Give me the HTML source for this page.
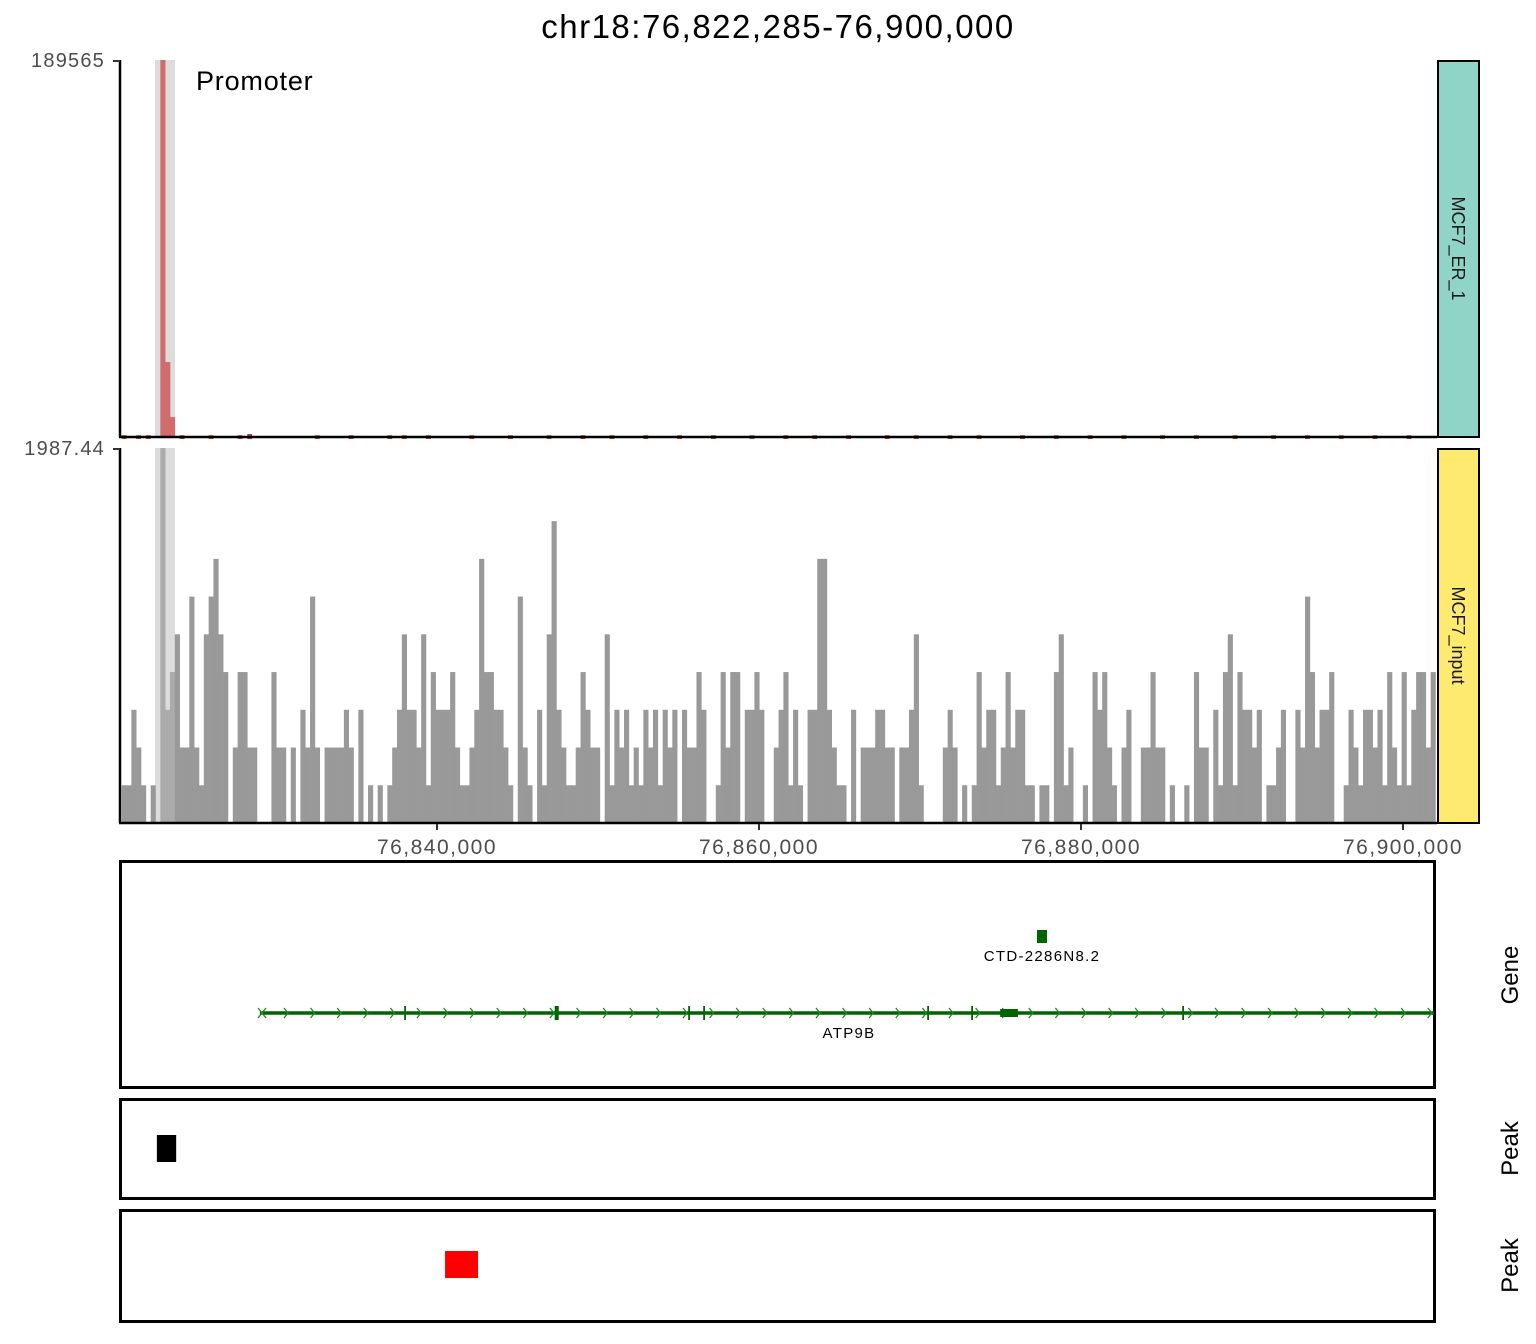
<!DOCTYPE html>
<html><head><meta charset="utf-8">
<style>
html,body{margin:0;padding:0;background:#fff;}
svg{display:block;font-family:"Liberation Sans",sans-serif;}
</style></head>
<body>
<svg id="chart" width="1536" height="1344" viewBox="0 0 1536 1344" xmlns="http://www.w3.org/2000/svg">
<text x="778" y="38" font-size="33" letter-spacing="1.5" text-anchor="middle" fill="#000">chr18:76,822,285-76,900,000</text>
<g id="er-panel"></g>
<g id="in-panel"></g>
<g id="xaxis"></g>
<g id="gene-panel"></g>
<g id="peak-panels"></g>
</svg>
<script>
const NS = "http://www.w3.org/2000/svg";
// ---- data ----
const binStart = 76820416;
const binSize = 300;
const inputValues = [200,200,600,400,200,0,200,0,1987,600,800,1000,400,400,1200,400,200,1000,1200,1400,1000,800,0,400,800,800,400,400,0,0,0,800,400,400,0,400,0,600,400,1200,400,0,400,400,400,400,600,400,0,600,0,200,0,200,0,200,400,600,1000,600,600,400,1000,200,800,600,600,600,800,
400,200,200,400,600,1400,800,800,600,600,400,200,0,1200,400,200,0,600,200,1000,1600,600,400,200,200,400,800,600,400,400,0,1000,200,600,400,600,200,400,200,600,400,600,200,600,400,600,0,600,400,400,800,600,0,0,200,800,400,800,800,0,600,600,800,600,0,0,400,600,
800,200,600,200,0,600,600,1400,1400,600,400,200,200,0,600,0,400,400,400,600,600,400,400,0,400,400,600,1000,200,0,0,0,0,400,600,400,0,200,0,200,800,400,600,600,200,400,800,400,600,600,200,200,0,200,200,0,800,1000,200,400,0,0,200,0,800,600,800,
400,200,0,400,600,0,0,400,400,800,400,400,0,200,0,0,200,0,800,400,400,0,600,200,800,1000,200,800,600,600,400,600,0,200,200,400,600,0,0,600,400,1200,800,400,600,600,800,0,0,200,600,400,200,600,600,400,600,200,800,400,200,800,200,600,800,800,400,800];
const erPeakBins = [8, 9, 10];
const erPeakValues = [189565, 37700, 10000];
const erSmallBins = [0,3,5,12,18,24,26,40,47,55,58,63,72,80,88,95,101,108,115,122,130,137,143,150,158,164,171,177,186,193,200,207,215,222,230,238,245,252,259,266];
const erSmallValues = [900,900,900,900,900,900,1500,900,900,900,900,900,900,900,900,900,900,900,900,900,900,900,900,900,900,900,900,900,900,900,900,900,900,900,900,900,900,900,900,900];
const xTicks = [76840000, 76860000, 76880000, 76900000];
const xTickLabels = ["76,840,000", "76,860,000", "76,880,000", "76,900,000"];
const erMax = 189565, inMax = 1987.44;
const exonPos = [76838012, 76847360, 76855652, 76856584, 76870497, 76873230, 76875031, 76886335];
const exonLen = [100, 250, 60, 60, 60, 60, 1100, 60];
const exonTall = [14, 14, 14, 14, 14, 14, 8, 14];
const peak1 = [76822600, 76823800];
const peak2 = [76840500, 76842550];
// ---- scales ----
const x = p => 437 + (p - 76840000) * 0.0161;
const yEr = v => 437 - v / erMax * 377;
const yIn = v => 823 - v / inMax * 375;
function el(tag, attrs, parent) {
  const e = document.createElementNS(NS, tag);
  for (const k in attrs) e.setAttribute(k, attrs[k]);
  parent.appendChild(e);
  return e;
}
const er = document.getElementById('er-panel');
const inp = document.getElementById('in-panel');
let h1 = el('rect', {x: 155, y: 60, width: 20, height: 377, fill: '#dcdcdc'}, er);


let h2 = el('rect', {x: 155, y: 448, width: 20, height: 375, fill: '#dcdcdc'}, inp);


erSmallBins.forEach((b, i) => {
  const x0 = x(binStart + b * binSize), x1 = x(binStart + (b + 1) * binSize);
  const r = el('rect', {x: x0, y: yEr(erSmallValues[i]), width: x1 - x0, height: 437 - yEr(erSmallValues[i]) + 2, fill: '#c0393b'}, er);
  
  
});
erPeakBins.forEach((b, i) => {
  const x0 = x(binStart + b * binSize), x1 = x(binStart + (b + 1) * binSize);
  const r = el('rect', {x: x0, y: yEr(erPeakValues[i]), width: x1 - x0 + 0.3, height: 437 - yEr(erPeakValues[i]), fill: '#d26b6b'}, er);
  
  
});
inputValues.forEach((v, b) => {
  if (v <= 0) return;
  const x0 = x(binStart + b * binSize), x1 = x(binStart + (b + 1) * binSize);
  const inHl = x0 >= 154 && x1 <= 177;
  const r = el('rect', {x: x0, y: yIn(v), width: x1 - x0 + 0.3, height: 823 - yIn(v), fill: inHl ? '#ababab' : '#999999'}, inp);
  
  
});
[[er, 60, 437, '189565', '#8fd4c7', 'MCF7_ER_1'], [inp, 448, 823, '1987.44', '#fdea6f', 'MCF7_input']].forEach(([g, top, bot, lab, col, name]) => {
  el('line', {x1: 120, y1: top, x2: 120, y2: bot, stroke: '#000', 'stroke-width': 2.5}, g);
  el('line', {x1: 119, y1: bot, x2: 1437, y2: bot, stroke: '#000', 'stroke-width': 2.5}, g);
  el('line', {x1: 113, y1: top + 1, x2: 120, y2: top + 1, stroke: '#333', 'stroke-width': 2}, g);
  const t = el('text', {x: 105, y: top + 7, 'font-size': 20, 'letter-spacing': 1.2, fill: '#4d4d4d', 'text-anchor': 'end'}, g);
  t.textContent = lab;
  
  
  const s = el('rect', {x: 1438, y: top + 1, width: 41, height: bot - top - 1, fill: col, stroke: '#000', 'stroke-width': 2}, g);
  
  
  const st = el('text', {x: 0, y: 0, 'font-size': 18, fill: '#1a1a1a', 'text-anchor': 'middle', transform: `translate(1452,${(top + bot) / 2}) rotate(90)`}, g);
  st.textContent = name;
  
  
});
const pt = el('text', {x: 196, y: 90, 'font-size': 27, 'letter-spacing': 0.8, fill: '#000'}, er);
pt.textContent = 'Promoter';


const xa = document.getElementById('xaxis');
xTicks.forEach((p, i) => {
  el('line', {x1: x(p), y1: 824, x2: x(p), y2: 830, stroke: '#333', 'stroke-width': 2}, xa);
  const t = el('text', {x: x(p), y: 854, 'font-size': 21, 'letter-spacing': 1.5, fill: '#4d4d4d', 'text-anchor': 'middle'}, xa);
  t.textContent = xTickLabels[i];
  
  
});
const gp = document.getElementById('gene-panel');
el('rect', {x: 120.5, y: 861.5, width: 1314, height: 226, fill: 'none', stroke: '#000', 'stroke-width': 3}, gp);
const gy = 1013;
const gl = el('line', {x1: x(76829000), y1: gy, x2: 1434, y2: gy, stroke: '#006400', 'stroke-width': 3.5}, gp);


for (let ax = 287; ax < 1432; ax += 26.6) {
  el('polyline', {points: `${ax - 3},${gy - 5} ${ax + 1},${gy} ${ax - 3},${gy + 5}`, fill: 'none', stroke: '#1e8a1e', 'stroke-width': 1.3}, gp);
}
el('line', {x1: 258, y1: gy - 5, x2: 266, y2: gy + 5, stroke: '#1e8a1e', 'stroke-width': 1.3}, gp);
el('line', {x1: 258, y1: gy + 5, x2: 266, y2: gy - 5, stroke: '#1e8a1e', 'stroke-width': 1.3}, gp);
exonPos.forEach((p, i) => {
  const r = el('rect', {x: x(p) - 0.8, y: gy - exonTall[i] / 2, width: Math.max(1.8, x(p + exonLen[i]) - x(p)), height: exonTall[i], fill: '#006400'}, gp);
  
  
});
const ctd = el('rect', {x: x(76877267), y: 930, width: x(76877887) - x(76877267), height: 13, fill: '#006400'}, gp);


let t1 = el('text', {x: 1042, y: 961, 'font-size': 15, fill: '#000', 'text-anchor': 'middle', 'letter-spacing': '1.3'}, gp);
t1.textContent = 'CTD-2286N8.2';


let t2 = el('text', {x: 849, y: 1038, 'font-size': 15, fill: '#000', 'text-anchor': 'middle', 'letter-spacing': '1.3'}, gp);
t2.textContent = 'ATP9B';


let t3 = el('text', {x: 0, y: 0, 'font-size': 24, fill: '#000', 'text-anchor': 'middle', transform: 'translate(1518,975) rotate(-90)'}, gp);
t3.textContent = 'Gene';


const pp = document.getElementById('peak-panels');
[[1099, 1198, peak1, '#000', 1135, 1162], [1210, 1321, peak2, '#ff0000', 1251, 1278]].forEach(([top, bot, pk, col, py0, py1]) => {
  el('rect', {x: 120.5, y: top + 0.5, width: 1314, height: bot - top, fill: 'none', stroke: '#000', 'stroke-width': 3}, pp);
  const r = el('rect', {x: x(pk[0]), y: py0, width: x(pk[1]) - x(pk[0]), height: py1 - py0, fill: col}, pp);
  
  
  const t = el('text', {x: 0, y: 0, 'font-size': 24, fill: '#000', 'text-anchor': 'middle', transform: `translate(1518,${(top + bot) / 2}) rotate(-90)`}, pp);
  t.textContent = 'Peak';
  
  
});
</script>
</body></html>
